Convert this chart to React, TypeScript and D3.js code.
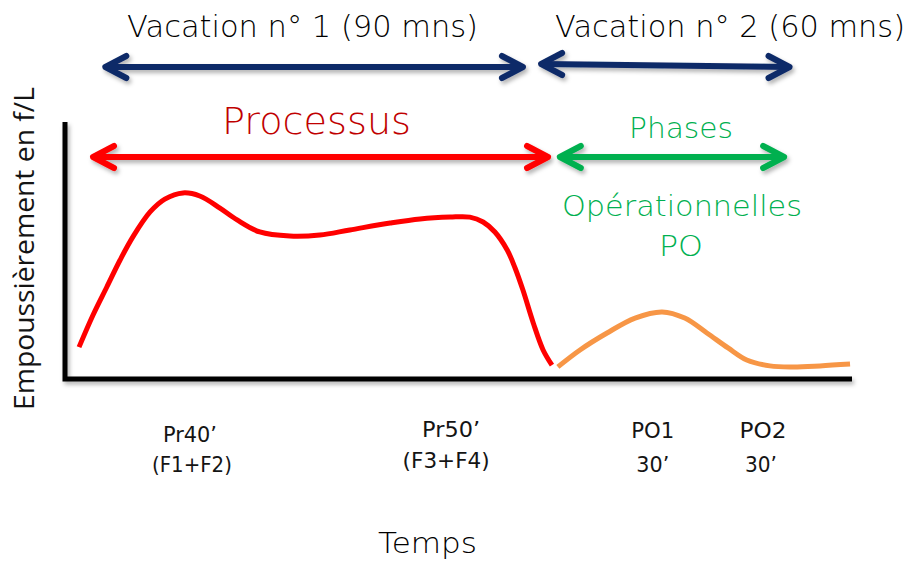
import * as d3 from "d3";

// ---------------------------------------------------------------------------
// Data (time in arbitrary units 0..160, dust level 0..100)
// ---------------------------------------------------------------------------

const PROCESS_CURVE: [number, number][] = [
  [2.85, 12.4], [5.7, 24.9], [8.5, 35.8], [11.2, 46.3], [13.8, 55.3],
  [17.3, 65.0], [20.3, 70.0], [24.0, 72.4], [27.4, 71.2], [31.5, 66.5],
  [35.0, 61.9], [39.6, 57.2], [45.7, 55.6], [51.8, 56.0], [57.9, 58.0],
  [66.1, 60.7], [72.2, 62.3], [78.3, 63.0], [82.3, 63.0], [85.0, 61.1],
  [87.4, 57.2], [89.9, 50.2], [91.5, 43.2], [93.1, 34.6], [95.2, 21.8],
  [97.2, 11.3], [99.0, 5.4],
];

const PO_CURVE: [number, number][] = [
  [100.2, 4.7], [104.7, 11.3], [110.2, 17.9], [115.9, 23.7], [121.4, 26.1],
  [126.0, 23.7], [130.5, 17.9], [134.8, 12.1], [138.6, 7.4], [143.3, 5.1],
  [148.0, 4.7], [153.5, 5.1], [159.6, 5.8],
];

const TICK_TIMES = [25.4, 78.5, 119.5, 141.9];
const TICK_LINE1 = ["Pr40\u2019", "Pr50\u2019", "PO1", "PO2"];
const TICK_LINE2 = ["(F1+F2)", "(F3+F4)", "30\u2019", "30\u2019"];

const VACATIONS = ["Vacation n\u00b0 1 (90 mns)", "Vacation n\u00b0 2 (60 mns)"];
const VACATION_SPANS: [number, number][] = [[8.2, 93.1], [96.8, 147.3]];
const PROCESS_SPAN: [number, number] = [5.7, 98.2];
const PO_SPAN: [number, number] = [100.6, 146.2];

// ---------------------------------------------------------------------------
// Palette / layout
// ---------------------------------------------------------------------------

const NAVY = "#0f2a68";
const RED = "#ff0000";
const DARK_RED = "#c00000";
const GREEN = "#00b050";
const ORANGE = "#f79646";
const INK = "#141414";
const HEAD_FONT = "'DejaVu Sans', sans-serif";
const LABEL_FONT = "'Open Sans', sans-serif";

const W = 912;
const H = 563;
const X0 = 65;
const X1 = 852;
const Y0 = 379;
const Y1 = 122;

// tick label widths (line 1 / line 2) and baselines
const TICK_W1 = [54, 58, 43, 47];
const TICK_W2 = [80, 87, 33, 32];
const TICK_DX2 = [2, -5, 0, -2];
const TICK_BASE = [[442, 472], [437, 468], [438, 472], [438, 472]];

const x = d3.scaleLinear().domain([0, 160]).range([X0, X1]);
const y = d3.scaleLinear().domain([0, 100]).range([Y0, Y1]);

const curve = d3
  .line<[number, number]>()
  .x((d) => x(d[0]))
  .y((d) => y(d[1]))
  .curve(d3.curveCatmullRom.alpha(0.5));

function FitText(props: {
  x0: number;
  x1: number;
  y: number;
  size: number;
  fill: string;
  weight?: number;
  children: string;
}) {
  return (
    <text
      x={props.x0}
      y={props.y}
      textLength={props.x1 - props.x0}
      lengthAdjust="spacingAndGlyphs"
      fontSize={props.size}
      fontFamily={HEAD_FONT}
      fontWeight={props.weight ?? 200}
      fill={props.fill}
    >
      {props.children}
    </text>
  );
}

function Arrow(props: {
  from: number;
  to: number;
  yl: number;
  yr: number;
  color: string;
  width?: number;
}) {
  const xl = x(props.from);
  const xr = x(props.to);
  const hl = 21;
  const hh = 11;
  return (
    <g
      stroke={props.color}
      strokeWidth={props.width ?? 6}
      fill="none"
      strokeLinecap="round"
      strokeLinejoin="round"
      filter="url(#shadow)"
    >
      <line x1={xl + 3} y1={props.yl} x2={xr - 3} y2={props.yr} />
      <path d={`M${xl + hl},${props.yl - hh}L${xl},${props.yl}L${xl + hl},${props.yl + hh}`} />
      <path d={`M${xr - hl},${props.yr - hh}L${xr},${props.yr}L${xr - hl},${props.yr + hh}`} />
    </g>
  );
}

export default function App() {
  return (
    <svg
      width={W}
      height={H}
      style={{ position: "absolute", left: 0, top: 0, background: "#fff" }}
    >
      <defs>
        <filter id="shadow" x="-10%" y="-50%" width="120%" height="200%">
          <feDropShadow dx="2" dy="3" stdDeviation="2" floodColor="#000" floodOpacity="0.3" />
        </filter>
      </defs>

      {/* Vacation headings */}
      <FitText x0={127} x1={478} y={37} size={30} fill="#000">{VACATIONS[0]}</FitText>
      <FitText x0={555} x1={905} y={37} size={30} fill="#000">{VACATIONS[1]}</FitText>
      <Arrow from={VACATION_SPANS[0][0]} to={VACATION_SPANS[0][1]} yl={67} yr={67} color={NAVY} />
      <Arrow from={VACATION_SPANS[1][0]} to={VACATION_SPANS[1][1]} yl={64} yr={67} color={NAVY} />

      {/* Process / phase headings */}
      <FitText x0={222} x1={411} y={134} size={37} fill={DARK_RED}>Processus</FitText>
      <Arrow from={PROCESS_SPAN[0]} to={PROCESS_SPAN[1]} yl={157} yr={157} color={RED} />
      <FitText x0={629} x1={733} y={138} size={29} fill={GREEN}>Phases</FitText>
      <Arrow from={PO_SPAN[0]} to={PO_SPAN[1]} yl={157} yr={157} color={GREEN} />
      <FitText x0={562} x1={802} y={216} size={29} fill={GREEN}>Opérationnelles</FitText>
      <FitText x0={659} x1={703} y={256} size={29} fill={GREEN}>PO</FitText>

      {/* Axes */}
      <g filter="url(#shadow)">
        <path
          d={`M${X0},${Y1}L${X0},${Y0}L${X1},${Y0}`}
          stroke="#000"
          strokeWidth={5}
          fill="none"
        />
      </g>

      {/* Curves */}
      <path d={curve(PROCESS_CURVE) ?? ""} stroke={RED} strokeWidth={5} fill="none" />
      <path d={curve(PO_CURVE) ?? ""} stroke={ORANGE} strokeWidth={5} fill="none" />

      {/* Tick labels */}
      {TICK_TIMES.map((t, i) => {
        const cx = x(t);
        return (
          <g key={i}>
            <FitText
              x0={cx - TICK_W1[i] / 2}
              x1={cx + TICK_W1[i] / 2}
              y={TICK_BASE[i][0]}
              size={22}
              weight={400}
              fill={INK}
            >
              {TICK_LINE1[i]}
            </FitText>
            <FitText
              x0={cx + TICK_DX2[i] - TICK_W2[i] / 2}
              x1={cx + TICK_DX2[i] + TICK_W2[i] / 2}
              y={TICK_BASE[i][1]}
              size={22}
              weight={400}
              fill={INK}
            >
              {TICK_LINE2[i]}
            </FitText>
          </g>
        );
      })}

      {/* Axis titles */}
      <FitText x0={378} x1={477} y={553} size={29} fill="#000">Temps</FitText>
      <text
        transform="translate(34,410) rotate(-90)"
        x={0}
        y={0}
        textLength={323}
        lengthAdjust="spacingAndGlyphs"
        fontSize={27}
        fontFamily={LABEL_FONT}
        fill={INK}
      >
        Empoussièrement en f/L
      </text>
    </svg>
  );
}
